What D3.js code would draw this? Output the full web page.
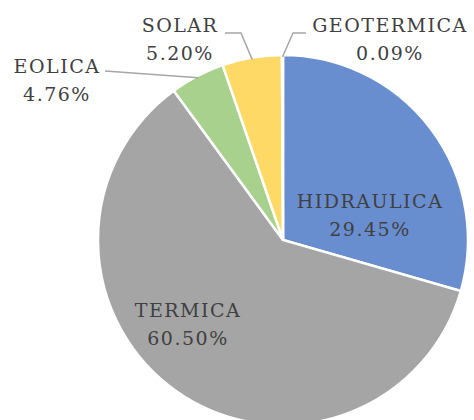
<!DOCTYPE html>
<html>
<head>
<meta charset="utf-8">
<script src="https://cdn.jsdelivr.net/npm/d3@7"></script>
<style>
  body { margin: 0; background: #fff; }
  text { font-family: "DejaVu Serif", "Liberation Serif", serif; fill: #404040; }
</style>
</head>
<body>
<div id="container"></div>
<script>
/** CONSTANTS AND GLOBALS */
const width = 474,
  height = 420;

const categories = ["HIDRAULICA", "TERMICA", "EOLICA", "SOLAR", "GEOTERMICA"];
const values = [29.45, 60.50, 4.76, 5.20, 0.09];
const colors = ["#698ED0", "#A5A5A5", "#A9D18E", "#FFD966", "#F4B183"];

const cx = 283, cy = 240, radius = 185;

const svg = d3.select("#container")
  .append("svg")
  .attr("width", width)
  .attr("height", height);

const data = categories.map((c, i) => ({ name: c, value: values[i], color: colors[i] }));

const pie = d3.pie()
  .value(d => d.value)
  .sort(null);

const arc = d3.arc()
  .innerRadius(0)
  .outerRadius(radius);

const arcs = pie(data);

const g = svg.append("g")
  .attr("transform", `translate(${cx},${cy})`);

g.selectAll("path")
  .data(arcs)
  .join("path")
  .attr("d", arc)
  .attr("fill", d => d.data.color)
  .attr("stroke", "#fff")
  .attr("stroke-width", 2.5);

// label anchors (relative to chart, Excel-style placement)
const labelPos = {
  HIDRAULICA: [370, 208],
  TERMICA: [188, 317],
  EOLICA: [57, 73],
  SOLAR: [180, 32],
  GEOTERMICA: [390, 32]
};

// leader lines for the small slices
const leaders = {
  EOLICA: [[105, 71]],
  SOLAR: [[225, 33], [241, 33]],
  GEOTERMICA: [[306, 33], [293, 33]]
};

const outer = d3.arc().innerRadius(radius - 2).outerRadius(radius - 2);

arcs.forEach(d => {
  const name = d.data.name;
  if (leaders[name]) {
    const [ex, ey] = outer.centroid(d);
    const pts = leaders[name].concat([[ex + cx, ey + cy]]);
    svg.append("path")
      .attr("d", d3.line()(pts))
      .attr("fill", "none")
      .attr("stroke", "#A6A6A6")
      .attr("stroke-width", 1.5);
  }
  const [lx, ly] = labelPos[name];
  const t = svg.append("text")
    .attr("x", lx)
    .attr("y", ly)
    .attr("text-anchor", "middle")
    .style("font-size", "19px")
    .style("letter-spacing", "1.5px");
  t.append("tspan").attr("x", lx).text(name);
  t.append("tspan").attr("x", lx).attr("dy", 28).text(d.data.value.toFixed(2) + "%");
});
</script>
</body>
</html>
